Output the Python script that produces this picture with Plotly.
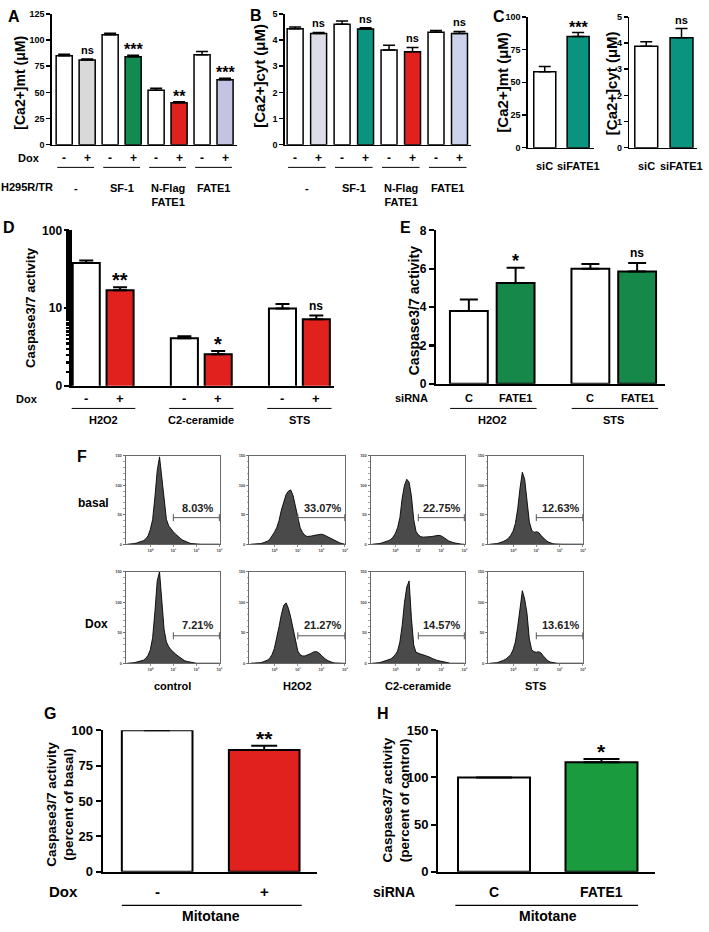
import math
import plotly.graph_objects as go

W, H = 709, 932
FONT = "Liberation Sans, Arial, sans-serif"


def PX(x):
    return x / W


def PY(y):
    return 1 - y / H


# ---------------- data ----------------
A_values = [85, 81, 105, 84, 52, 40, 86, 62]
A_errors = [1.5, 1.0, 1.5, 1.5, 2.0, 1.0, 3.0, 1.5]
A_sig = ["", "ns", "", "***", "", "**", "", "***"]
B_values = [4.43, 4.25, 4.60, 4.42, 3.62, 3.55, 4.30, 4.25]
B_errors = [0.07, 0.04, 0.13, 0.05, 0.18, 0.17, 0.07, 0.08]
B_sig = ["", "ns", "", "ns", "", "ns", "", "ns"]
dox_signs = ["-", "+", "-", "+", "-", "+", "-", "+"]
AB_groups = ["-", "SF-1", "N-Flag<br>FATE1", "FATE1"]
A_ticks = [0, 25, 50, 75, 100, 125]
B_ticks = [0, 1, 2, 3, 4, 5]

C_labels = ["siC", "siFATE1"]
C_mt_values = [58, 85]
C_mt_errors = [4, 3]
C_mt_sig = ["", "***"]
C_mt_ticks = [0, 25, 50, 75, 100]
C_cyt_values = [3.88, 4.20]
C_cyt_errors = [0.17, 0.35]
C_cyt_sig = ["", "ns"]
C_cyt_ticks = [0, 1, 2, 3, 4, 5]

D_groups = ["H2O2", "C2-ceramide", "STS"]
D_values = [38, 17, 4.1, 2.55, 9.9, 7.2]
D_errors = [3, 1.5, 0.25, 0.25, 1.4, 0.8]
D_sig = ["", "**", "", "*", "", "ns"]
D_tickvals = [1, 10, 100]
D_ticktext = ["0", "10", "100"]

E_groups = ["H2O2", "STS"]
E_siRNA = ["C", "FATE1", "C", "FATE1"]
E_values = [3.8, 5.25, 6.0, 5.85]
E_errors = [0.6, 0.8, 0.25, 0.45]
E_sig = ["", "*", "", "ns"]
E_ticks = [0, 2, 4, 6, 8]

G_labels = ["-", "+"]
G_values = [100, 86]
G_errors = [0, 3]
G_sig = ["", "**"]
G_ticks = [0, 25, 50, 75, 100]
H_labels = ["C", "FATE1"]
H_values = [100, 116]
H_errors = [0, 3.5]
H_sig = ["", "*"]
H_ticks = [0, 50, 100, 150]

# flow cytometry histograms (log10 fluorescence, counts)
FL_DECADES = [-1.0, -0.9, -0.8, -0.7, -0.6, -0.5, -0.4, -0.3, -0.2, -0.1,
              0.0, 0.1, 0.2, 0.3, 0.4, 0.5, 0.6, 0.7, 0.8, 0.9,
              1.0, 1.1, 1.2, 1.3, 1.4, 1.5, 1.6, 1.7, 1.8, 1.9,
              2.0, 2.1, 2.2, 2.3, 2.4, 2.5, 2.6, 2.7, 2.8, 2.9, 3.0]
hist_basal_control = [0, 0, 0.5, 1, 2, 3, 4, 6, 9, 14, 25, 42, 80, 125, 148, 112, 68, 42, 31, 25,
                      21, 17, 13, 10, 7, 5, 3, 2, 1, 0.5, 0, 0, 0, 0, 0, 0, 0, 0, 0, 0, 0]
hist_basal_h2o2 = [0, 0, 0, 0.5, 1, 2, 3, 5, 8, 13, 20, 28, 40, 58, 72, 84, 90, 92, 82, 62,
                   42, 28, 20, 15, 13, 13, 14, 15, 16, 17, 17, 16, 14, 11, 9, 7, 5, 3, 2, 1, 0]
hist_basal_c2 = [0, 0, 0.5, 1, 2, 3, 4, 6, 8, 12, 18, 28, 45, 78, 100, 110, 105, 82, 42, 22,
                 16, 13, 12, 12, 12, 13, 13, 14, 15, 15, 14, 12, 9, 6, 4, 3, 2, 1, 0.5, 0, 0]
hist_basal_sts = [0, 0, 0.5, 1, 2, 3, 5, 7, 10, 15, 22, 35, 60, 95, 122, 110, 75, 38, 24, 20,
                  21, 20, 15, 10, 7, 4, 2, 1, 0.5, 0, 0, 0, 0, 0, 0, 0, 0, 0, 0, 0, 0]
hist_dox_control = [0, 0, 0.5, 1, 2, 3, 4, 5, 8, 13, 22, 42, 85, 135, 150, 105, 55, 35, 27, 22,
                    18, 15, 12, 9, 6, 4, 3, 2, 1, 0.5, 0, 0, 0, 0, 0, 0, 0, 0, 0, 0, 0]
hist_dox_h2o2 = [0, 0, 0, 0.5, 1, 2, 3, 5, 8, 14, 24, 40, 60, 80, 95, 99, 90, 75, 55, 35,
                 20, 14, 12, 12, 13, 15, 17, 19, 19, 17, 13, 9, 6, 4, 2, 1, 0.5, 0, 0, 0, 0]
hist_dox_c2 = [0, 0, 0.5, 1, 2, 3, 4, 5, 7, 10, 14, 20, 35, 62, 100, 125, 135, 75, 30, 18,
               16, 15, 14, 13, 12, 10, 8, 6, 5, 4, 3, 2, 1, 0.5, 0, 0, 0, 0, 0, 0, 0]
hist_dox_sts = [0, 0, 0.5, 1, 2, 3, 5, 7, 10, 14, 22, 35, 60, 95, 119, 105, 82, 40, 22, 19,
                18, 19, 17, 12, 7, 4, 2, 1, 0.5, 0, 0, 0, 0, 0, 0, 0, 0, 0, 0, 0, 0]
HISTS = [hist_basal_control, hist_basal_h2o2, hist_basal_c2, hist_basal_sts,
         hist_dox_control, hist_dox_h2o2, hist_dox_c2, hist_dox_sts]
GATE_PCTS = ["8.03%", "33.07%", "22.75%", "12.63%", "7.21%", "21.27%", "14.57%", "13.61%"]
F_rows = ["basal", "Dox"]
F_cols = ["control", "H2O2", "C2-ceramide", "STS"]
FL_ticks = [0, 50, 100, 150]
FL_xticktext = ["10⁰", "10¹", "10²", "10³"]

RED = "#e0211d"
A_colors = ["white", "#d9d9d9", "white", "#128a50", "white", RED, "white", "#c5c3e3"]
B_colors = ["white", "#dcdde6", "white", "#0a947f", "white", RED, "white", "#cdd2ec"]
C_colors = ["white", "#0a947f"]
D_colors = ["white", RED] * 3
E_colors = ["white", "#15884a"] * 2
G_colors = ["white", RED]
H_colors = ["white", "#199b3e"]

fig = go.Figure()
annotations = []
shapes = []
axcount = [0]


def new_axes(x0, x1, ytop, ybot, xr, yr, lw=1.5, ytype="linear", tickvals=None,
             ticktext=None, tfs=9, ticklen=4, minor=None, hist=False):
    axcount[0] += 1
    i = axcount[0]
    s = "" if i == 1 else str(i)
    xa = dict(domain=[PX(x0), PX(x1)], range=xr, anchor="y" + s, showline=True,
              linecolor="black", linewidth=lw, showgrid=False, zeroline=False,
              ticks="", showticklabels=False, fixedrange=True)
    ya = dict(domain=[PY(ybot), PY(ytop)], range=yr, type=ytype, anchor="x" + s,
              showline=True, linecolor="black", linewidth=lw, showgrid=False,
              zeroline=False, ticks="outside", ticklen=ticklen, tickwidth=lw,
              tickcolor="black", tickvals=tickvals, ticktext=ticktext,
              tickfont=dict(size=tfs, family=FONT, color="black", weight="bold"),
              fixedrange=True)
    if minor:
        ya["minor"] = minor
    if hist:
        for a in (xa, ya):
            a.update(mirror=True, linecolor="#444", linewidth=0.8, ticks="outside",
                     ticklen=2, tickwidth=0.6, tickcolor="#444",
                     tickfont=dict(size=4, family=FONT, color="#444"))
        xa.update(type="log", showticklabels=True, tickvals=[1, 10, 100, 1000],
                  ticktext=FL_xticktext)
        ya.update(showticklabels=True)
        ya["minor"] = dict(ticks="outside", ticklen=1.2, tickcolor="#666", dtick=10)
    fig.layout["xaxis" + s] = xa
    fig.layout["yaxis" + s] = ya
    return "x" + s, "y" + s


def bars(xa, ya, pos, vals, errs, colors, bw, lw, capw, sig, nssize, astsize, logy=False):
    fig.add_trace(go.Bar(
        x=pos, y=vals, width=bw, xaxis=xa, yaxis=ya, showlegend=False,
        marker=dict(color=colors, line=dict(color="black", width=lw)),
        error_y=dict(type="data", array=errs, arrayminus=[0] * len(errs),
                     symmetric=False, color="black", thickness=lw, width=capw)))
    for p, v, e, t in zip(pos, vals, errs, sig):
        if not t:
            continue
        top = v + e
        size = astsize if "*" in t else nssize
        annotations.append(dict(
            x=p, y=math.log10(top) if logy else top, xref=xa, yref=ya, text=t,
            showarrow=False, yanchor="bottom",
            yshift=1 if t == "ns" else -round(0.3 * size),
            font=dict(size=size, family=FONT, color="black", weight="bold")))


def label(x, y, text, size=10, xref="paper", xanchor="center", angle=0, yanchor="middle"):
    annotations.append(dict(
        x=x if xref != "paper" else PX(x), y=PY(y), xref=xref, yref="paper",
        text=text, showarrow=False, xanchor=xanchor, yanchor=yanchor, textangle=angle,
        font=dict(size=size, family=FONT, color="black", weight="bold")))


def hline(xref, x0, x1, y, w=1):
    shapes.append(dict(type="line", xref=xref, yref="paper", x0=x0, x1=x1,
                       y0=PY(y), y1=PY(y), line=dict(color="black", width=w)))


# ---------------- panel A ----------------
posAB = list(range(8))
xa, ya = new_axes(52, 238, 7, 140, [-0.54, 7.52], [0, 125], tickvals=A_ticks)
bars(xa, ya, posAB, A_values, A_errors, A_colors, 0.7, 1.5, 6, A_sig, 11, 16)
for p, s in zip(posAB, dox_signs):
    label(p, 153, s, 12, xref=xa)
for g, name in enumerate(AB_groups):
    hline(xa, 2 * g - 0.3, 2 * g + 1.3, 163)
    label(2 * g + 0.5, 176, name, 11, xref=xa, yanchor="top")
label(29, 153, "Dox", 11)
label(27, 183, "H295R/TR", 11)
label(20, 77, "[Ca2+]mt (μM)", 14, angle=-90)
label(14, 10, "A", 16)

# ---------------- panel B ----------------
xa, ya = new_axes(286, 473, 7, 140, [-0.44, 7.49], [0, 5], tickvals=B_ticks)
bars(xa, ya, posAB, B_values, B_errors, B_colors, 0.68, 1.5, 6, B_sig, 11, 16)
for p, s in zip(posAB, dox_signs):
    label(p, 153, s, 12, xref=xa)
for g, name in enumerate(AB_groups):
    hline(xa, 2 * g - 0.3, 2 * g + 1.3, 163)
    label(2 * g + 0.5, 176, name, 11, xref=xa, yanchor="top")
label(261, 70, "[Ca2+]cyt (μM)", 15, angle=-90)
label(257, 9, "B", 16)

# ---------------- panel C ----------------
posC = [0, 1]
xa, ya = new_axes(530, 597, 10, 143, [-0.51, 1.49], [0, 100], tickvals=C_mt_ticks)
bars(xa, ya, posC, C_mt_values, C_mt_errors, C_colors, 0.66, 1.5, 6, C_mt_sig, 11, 16)
for p, s in zip(posC, C_labels):
    label(p, 162, s, 11, xref=xa)
label(505, 77, "[Ca2+]mt (μM)", 15, angle=-90)
label(501, 10, "C", 16)

xa, ya = new_axes(632, 700, 10, 143, [-0.48, 1.44], [0, 5], tickvals=C_cyt_ticks)
bars(xa, ya, posC, C_cyt_values, C_cyt_errors, C_colors, 0.65, 1.5, 6, C_cyt_sig, 11, 16)
for p, s in zip(posC, C_labels):
    label(p, 162, s, 11, xref=xa)
label(614, 77, "[Ca2+]cyt (μM)", 15, angle=-90)

# ---------------- panel D ----------------
posD = [g * 2.9 + k for g in range(3) for k in range(2)]
xa, ya = new_axes(72, 335, 227, 385, [-0.43, 7.31], [0, 2], lw=2.2, ytype="log",
                  tickvals=D_tickvals, ticktext=D_ticktext, tfs=12, ticklen=5,
                  minor=dict(ticks="outside", ticklen=3, tickcolor="black"))
bars(xa, ya, posD, D_values, D_errors, D_colors, 0.8, 2, 7, D_sig, 12, 20, logy=True)
for p, s in zip(posD, ["-", "+"] * 3):
    label(p, 398, s, 13, xref=xa)
for g, name in enumerate(D_groups):
    c = g * 2.9 + 0.5
    hline(xa, c - 0.95, c + 0.95, 408)
    label(c, 420, name, 11, xref=xa)
label(27, 398, "Dox", 11)
label(30, 305, "Caspase3/7 activity", 13, angle=-90)
label(9, 224, "D", 16)

# ---------------- panel E ----------------
posE = [g * 2.6 + k for g in range(2) for k in range(2)]
xa, ya = new_axes(438, 668, 227, 383, [-0.7, 4.2], [0, 8], lw=2.2, tickvals=E_ticks,
                  tfs=12, ticklen=5)
bars(xa, ya, posE, E_values, E_errors, E_colors, 0.81, 2, 9, E_sig, 12, 18)
for p, s in zip(posE, E_siRNA):
    label(p, 397, s, 11, xref=xa)
for g, name in enumerate(E_groups):
    c = g * 2.6 + 0.5
    hline(xa, c - 0.9, c + 0.95, 408)
    label(c, 420, name, 11, xref=xa)
label(413, 397, "siRNA", 11)
label(416, 309, "Caspase3/7 activity", 14, angle=-90)
label(407, 224, "E", 16)

# ---------------- panel F ----------------
F_colx = [(126, 221), (250, 347), (372, 467), (490, 586)]
F_rowy = [(456, 546), (574, 667)]
fl_x = [10 ** d for d in FL_DECADES]
for idx, counts in enumerate(HISTS):
    r, c = divmod(idx, 4)
    x0, x1 = F_colx[c]
    yt, yb = F_rowy[r]
    xa, ya = new_axes(x0, x1, yt, yb, [-1.08, 3.03], [0, 150], tickvals=FL_ticks, hist=True)
    fig.add_trace(go.Scatter(x=fl_x, y=counts, xaxis=xa, yaxis=ya, mode="lines",
                             line=dict(color="black", width=0.9), fill="tozeroy",
                             fillcolor="#4a4a4a", showlegend=False))
    fig.add_trace(go.Scatter(x=[10, 1000], y=[45, 45], xaxis=xa, yaxis=ya,
                             mode="lines+markers", showlegend=False,
                             line=dict(color="#555", width=1),
                             marker=dict(symbol="line-ns", size=5,
                                         line=dict(color="#555", width=1))))
    annotations.append(dict(x=2.05, y=62, xref=xa, yref=ya, text=GATE_PCTS[idx],
                            showarrow=False,
                            font=dict(size=11, family=FONT, color="#222", weight="bold")))
label(94, 504, F_rows[0], 12)
label(97, 627, F_rows[1], 12)
for c, name in enumerate(F_cols):
    label((F_colx[c][0] + F_colx[c][1]) / 2, 690, name, 11)
label(82, 457, "F", 16)

# ---------------- panel G ----------------
xa, ya = new_axes(103, 318, 735, 879, [-0.51, 1.49], [0, 100], lw=2, tickvals=G_ticks,
                  tfs=13, ticklen=5)
bars(xa, ya, [0, 1], G_values, G_errors, G_colors, 0.66, 2, 13, G_sig, 14, 21)
for p, s in zip([0, 1], G_labels):
    label(p, 899, s, 15, xref=xa)
hline(xa, -0.33, 1.35, 913, 1.2)
label(0.5, 924, "Mitotane", 14, xref=xa)
label(64, 899, "Dox", 15)
label(52, 810, "Caspase3/7 activity", 13.5, angle=-90)
label(69, 810, "(percent of basal)", 13.5, angle=-90)
label(50, 718, "G", 16)

# ---------------- panel H ----------------
xa, ya = new_axes(440, 658, 735, 879, [-0.52, 1.5], [0, 150], lw=2, tickvals=H_ticks,
                  tfs=13, ticklen=5)
bars(xa, ya, [0, 1], H_values, H_errors, H_colors, 0.67, 2, 18, H_sig, 14, 21)
for p, s in zip([0, 1], H_labels):
    label(p, 899, s, 14, xref=xa)
hline(xa, -0.36, 1.34, 913, 1.2)
label(0.5, 924, "Mitotane", 14, xref=xa)
label(396, 899, "siRNA", 14)
label(389, 806, "Caspase3/7 activity", 13.5, angle=-90)
label(406, 806, "(percent of control)", 13.5, angle=-90)
label(385, 718, "H", 16)

fig.update_layout(
    width=W, height=H, margin=dict(l=0, r=0, t=0, b=0),
    paper_bgcolor="white", plot_bgcolor="white",
    font=dict(family=FONT, color="black", weight="bold"),
    annotations=annotations, shapes=shapes, bargap=0, showlegend=False,
)
fig.write_html("out.html",
               config={"displayModeBar": False, "staticPlot": True},
               post_script="document.body.style.margin='0';"
                           "document.body.style.overflow='hidden';")
